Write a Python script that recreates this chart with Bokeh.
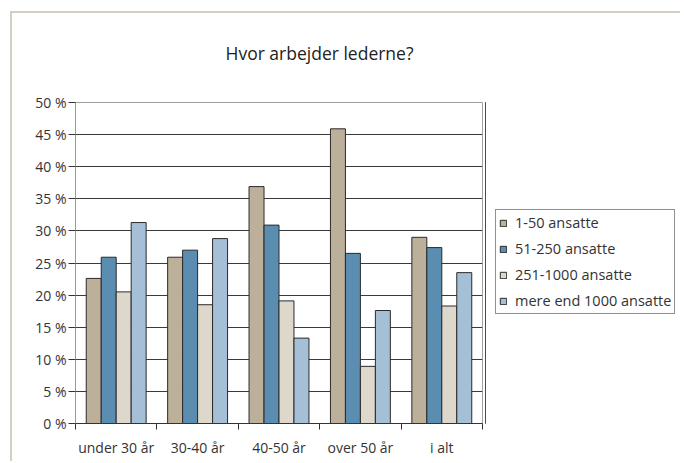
from bokeh.plotting import figure
from bokeh.models import Range1d, FixedTicker, Legend, LegendItem, ColumnDataSource, Title
from bokeh.layouts import row
from bokeh.embed import file_html
from bokeh.resources import INLINE

categories = ["under 30 år", "30-40 år", "40-50 år", "over 50 år", "i alt"]
series_names = ["1-50 ansatte", "51-250 ansatte", "251-1000 ansatte", "mere end 1000 ansatte"]
s_1_50 = [22.6, 25.9, 36.9, 45.9, 29.0]
s_51_250 = [25.9, 27.0, 30.9, 26.5, 27.4]
s_251_1000 = [20.5, 18.5, 19.1, 8.9, 18.3]
s_1000plus = [31.3, 28.8, 13.3, 17.6, 23.5]
y_ticks = [0, 5, 10, 15, 20, 25, 30, 35, 40, 45, 50]
y_tick_labels = ["0 %", "5 %", "10 %", "15 %", "20 %", "25 %", "30 %", "35 %", "40 %", "45 %", "50 %"]
title_text = "Hvor arbejder lederne?"

colors = ["#bcb09a", "#5a8db0", "#ded8cc", "#a4bfd6"]
FONT = "Open Sans"
BORDER = "2px solid #d3cec0"

# ---- main chart ----
p = figure(width=475, height=450, output_backend="svg", toolbar_location=None,
           x_range=Range1d(0, len(categories)), y_range=Range1d(0, 50),
           min_border_left=63, min_border_top=89, min_border_bottom=40, min_border_right=5)
p.styles = {"border-top": BORDER, "border-left": BORDER}
p.margin = (11, 0, 0, 10)

p.title = Title(text=title_text, align="left", offset=150, vertical_align="bottom",
                text_font=FONT, text_font_size="17.5px", text_font_style="normal",
                text_color="#222222", standoff=10)
# blank spacer between title and plot area
p.add_layout(Title(text=" ", text_font=FONT, text_font_size="17.5px", standoff=7), "above")

bar_w = 0.184
offsets = [-1.5 * bar_w, -0.5 * bar_w, 0.5 * bar_w, 1.5 * bar_w]
all_series = [s_1_50, s_51_250, s_251_1000, s_1000plus]
for vals, off, col in zip(all_series, offsets, colors):
    src = ColumnDataSource(dict(x=[i + 0.5 + off for i in range(len(categories))], top=vals))
    p.vbar(x="x", top="top", width=bar_w, bottom=0, source=src,
           fill_color=col, line_color="#2a2a2a", line_width=1)

# y axis
p.yaxis.ticker = FixedTicker(ticks=y_ticks)
p.yaxis.major_label_overrides = {t: l for t, l in zip(y_ticks, y_tick_labels)}
p.yaxis.major_tick_out = 7
p.yaxis.major_tick_in = 0
p.yaxis.minor_tick_out = 0
p.yaxis.major_label_standoff = 2
p.yaxis.axis_line_color = "#9a9a9a"
p.yaxis.major_tick_line_color = "#333333"
p.yaxis.major_label_text_font = FONT
p.yaxis.major_label_text_font_size = "14px"
p.yaxis.major_label_text_color = "#333333"

# x axis: labels at centers, tick marks at group boundaries
centers = [i + 0.5 for i in range(len(categories))]
bounds = [i for i in range(len(categories) + 1)]
p.xaxis.ticker = FixedTicker(ticks=centers, minor_ticks=bounds)
p.xaxis.major_label_overrides = {c: l for c, l in zip(centers, categories)}
p.xaxis.major_tick_out = 0
p.xaxis.major_tick_in = 0
p.xaxis.minor_tick_out = 6
p.xaxis.minor_tick_in = 0
p.xaxis.minor_tick_line_color = "#333333"
p.xaxis.axis_line_color = "#333333"
p.xaxis.major_label_standoff = 8
p.xaxis.major_label_text_font = FONT
p.xaxis.major_label_text_font_size = "14px"
p.xaxis.major_label_text_color = "#333333"

p.xgrid.visible = False
p.ygrid.ticker = FixedTicker(ticks=y_ticks[1:-1])
p.ygrid.grid_line_color = "#3a3a3a"
p.ygrid.grid_line_width = 1
p.outline_line_color = "#a0a0a0"

# ---- legend panel ----
q = figure(width=195, height=450, output_backend="svg", toolbar_location=None,
           x_axis_type=None, y_axis_type=None, min_border=0,
           x_range=Range1d(0, 1), y_range=Range1d(0, 1))
q.styles = {"border-top": BORDER}
q.margin = (11, 0, 0, 0)
q.outline_line_color = None
leg_renderers = []
for col in colors:
    # swatch-only glyphs, kept outside the visible range
    r = q.vbar(x=[-5], top=[1], width=0.1, bottom=0, fill_color=col,
               line_color="#2a2a2a", line_width=1)
    leg_renderers.append(r)

legend = Legend(items=[LegendItem(label=n, renderers=[r]) for n, r in zip(series_names, leg_renderers)],
                location=(10, 109), orientation="vertical",
                glyph_width=8, glyph_height=8, label_height=16, spacing=7, padding=3,
                label_standoff=8, margin=0,
                label_text_font=FONT, label_text_font_size="14.5px", label_text_color="#333333",
                border_line_color="#222222", border_line_width=1, background_fill_color="white",
                background_fill_alpha=1)
q.add_layout(legend, "center")

layout = row(p, q)
open("out.html", "w").write(file_html(layout, INLINE))
